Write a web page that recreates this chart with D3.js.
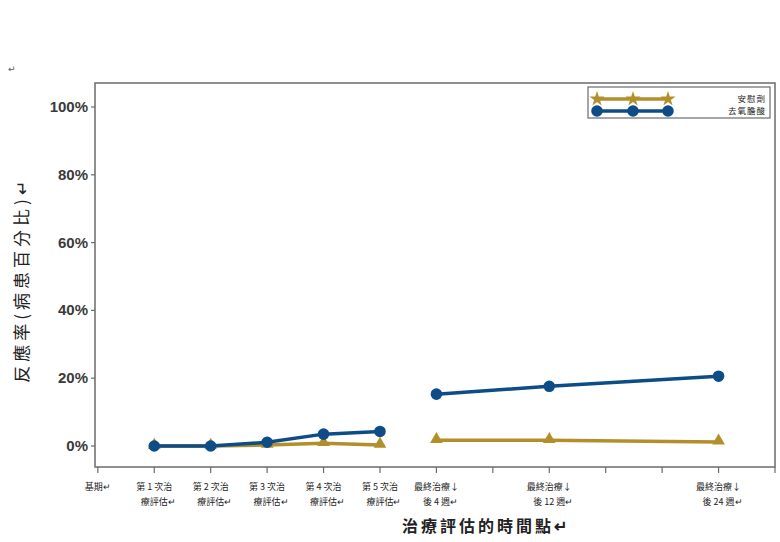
<!DOCTYPE html>
<html>
  <head>
    <meta http-equiv="Content-Type" content="text/html;charset=utf-8"/>
    <script src="https://d3js.org/d3.v7.min.js"></script>
    <style type="text/css">
    body { margin: 0; background: #fff; }
    .frame { fill: none; stroke: #6b6b6b; stroke-width: 1.5px; }
    .tick-line { stroke: #6b6b6b; stroke-width: 1.2px; }
    .y-label { font-family: "Liberation Sans", Arial, sans-serif; font-size: 15px; font-weight: bold; fill: #3a3a3a; }
    .x-label { font-family: "Noto Sans CJK TC", serif; font-size: 9px; fill: #222; }
    .title { font-family: "Noto Sans CJK TC", sans-serif; font-weight: bold; fill: #222; }
    .mark { font-family: "DejaVu Sans", sans-serif; font-size: 9px; fill: #555; }
    </style>
  </head>
  <body>
    <script type="text/javascript">
    // x positions are time-point indexes, 0 = 基期
    var tickIndex = [0, 1, 2, 3, 4, 5, 6, 7, 8, 9, 10, 11, 12];
    var tickLines = [
      ["基期↵"],
      ["第 1 次治", "療評估↵"],
      ["第 2 次治", "療評估↵"],
      ["第 3 次治", "療評估↵"],
      ["第 4 次治", "療評估↵"],
      ["第 5 次治", "療評估↵"],
      ["最終治療↓", "後 4 週↵"],
      [],
      ["最終治療↓", "後 12 週↵"],
      [], [],
      ["最終治療↓", "後 24 週↵"],
      []
    ];
    var yTicks = [0, 20, 40, 60, 80, 100];

    var pointIndex = [1, 2, 3, 4, 5, 6, 8, 11];
    var phase = ["治療", "治療", "治療", "治療", "治療", "追蹤", "追蹤", "追蹤"];
    var placeboValues = [0, 0, 0.3, 0.8, 0.3, 1.7, 1.7, 1.2];
    var drugValues = [0, 0, 1.1, 3.5, 4.3, 15.3, 17.6, 20.6];

    var seriesNames = ["安慰劑", "去氧膽酸"];
    var seriesColors = ["#b38f2b", "#0d4c87"];

    var width = 780, height = 542;
    var frame = { left: 95, right: 775, top: 83, bottom: 467 };

    var svg = d3.select("body").append("svg")
      .attr("width", width)
      .attr("height", height);

    var x = d3.scaleLinear().domain([-0.05, 12]).range([frame.left, frame.right]);
    var y = d3.scaleLinear().domain([0, 100]).range([446, 107]);

    svg.append("text").attr("class", "mark").attr("x", 8).attr("y", 72).text("↵");

    svg.append("rect").attr("class", "frame")
      .attr("x", frame.left).attr("y", frame.top)
      .attr("width", frame.right - frame.left)
      .attr("height", frame.bottom - frame.top);

    // y axis
    var yAxis = svg.append("g");
    yAxis.selectAll("line").data(yTicks).enter().append("line")
      .attr("class", "tick-line")
      .attr("x1", frame.left - 4).attr("x2", frame.left)
      .attr("y1", function(d) { return y(d); })
      .attr("y2", function(d) { return y(d); });
    yAxis.selectAll("text").data(yTicks).enter().append("text")
      .attr("class", "y-label")
      .attr("x", frame.left - 7)
      .attr("y", function(d) { return y(d) + 5; })
      .attr("text-anchor", "end")
      .text(function(d) { return d + "%"; });

    // x axis
    var xAxis = svg.append("g");
    xAxis.selectAll("line").data(tickIndex).enter().append("line")
      .attr("class", "tick-line")
      .attr("x1", function(d) { return x(d); })
      .attr("x2", function(d) { return x(d); })
      .attr("y1", frame.bottom).attr("y2", frame.bottom + 6);
    var labels = xAxis.selectAll("text").data(tickIndex).enter().append("text")
      .attr("class", "x-label")
      .attr("text-anchor", "middle");
    labels.selectAll("tspan")
      .data(function(d) { return tickLines[d].map(function(t, i) { return { t: t, i: i, x: x(d) }; }); })
      .enter().append("tspan")
      .attr("x", function(d) { return d.x + (d.i == 1 ? 4 : 0); })
      .attr("y", function(d) { return 490 + d.i * 15; })
      .text(function(d) { return d.t; });

    // titles
    svg.append("text").attr("class", "title")
      .attr("x", 486).attr("y", 532)
      .attr("text-anchor", "middle")
      .style("font-size", "16px")
      .style("letter-spacing", "3px")
      .text("治療評估的時間點↵");
    svg.append("text").attr("class", "title")
      .attr("transform", "translate(28,280) rotate(-90)")
      .attr("text-anchor", "middle")
      .style("font-size", "17px")
      .style("letter-spacing", "4px")
      .style("font-weight", "normal")
      .text("反應率(病患百分比)↵");

    // lines and markers
    var line = d3.line()
      .x(function(d) { return x(d.i); })
      .y(function(d) { return y(d.v); });
    var triangle = d3.symbol().type(d3.symbolTriangle).size(70);
    var circle = d3.symbol().type(d3.symbolCircle).size(105);

    [placeboValues, drugValues].forEach(function(values, s) {
      var pts = pointIndex.map(function(idx, k) { return { i: idx, v: values[k], p: phase[k] }; });
      var groups = d3.groups(pts, function(d) { return d.p; });
      svg.append("g").selectAll("path").data(groups).enter().append("path")
        .attr("d", function(g) { return line(g[1]); })
        .attr("fill", "none")
        .attr("stroke", seriesColors[s])
        .attr("stroke-width", 3.5);
      svg.append("g").selectAll("path").data(pts).enter().append("path")
        .attr("d", s == 0 ? triangle : circle)
        .attr("transform", function(d) { return "translate(" + x(d.i) + "," + (y(d.v) - (s == 0 ? 1 : 0)) + ")"; })
        .attr("fill", seriesColors[s]);
    });

    // legend
    var legend = svg.append("g");
    legend.append("rect")
      .attr("x", 588).attr("y", 87).attr("width", 182).attr("height", 31)
      .attr("fill", "#fff").attr("stroke", "#6b6b6b").attr("stroke-width", 1.2);
    var keyX = [597, 633, 668];
    seriesNames.forEach(function(name, s) {
      var ly = 99 + s * 12;
      legend.append("line")
        .attr("x1", keyX[0]).attr("x2", keyX[2])
        .attr("y1", ly).attr("y2", ly)
        .attr("stroke", seriesColors[s]).attr("stroke-width", 3.5);
      legend.selectAll(null).data(keyX).enter().append("path")
        .attr("d", s == 0 ? d3.symbol().type(d3.symbolStar).size(70) : circle)
        .attr("transform", function(d) { return "translate(" + d + "," + ly + ")"; })
        .attr("fill", seriesColors[s]);
      legend.append("text")
        .attr("class", "x-label")
        .attr("x", 766).attr("y", ly + 3)
        .attr("text-anchor", "end")
        .style("font-size", "8.5px")
        .style("letter-spacing", "1px")
        .text(name);
    });
    </script>
  </body>
</html>
